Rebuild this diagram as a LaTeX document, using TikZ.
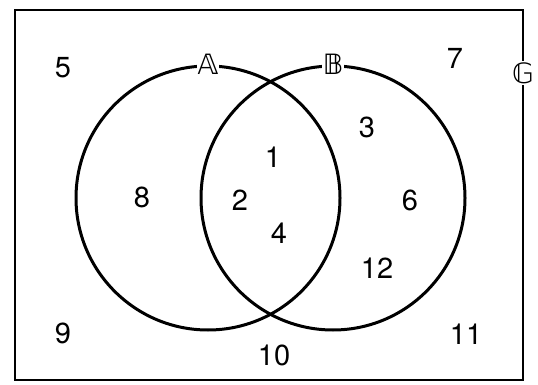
\documentclass[tikz,border=0pt]{standalone}
\usepackage{fontspec}
\setmainfont{TeX Gyre Heros}
\newfontfamily\dsfont{DejaVu Sans}

\begin{document}
\begin{tikzpicture}[x=1pt, y=-1pt]
    \tikzstyle{set} = [circle, draw, line width=3pt, minimum size=264pt, inner sep=0pt]
    \tikzstyle{setname} = [fill=white, inner sep=1pt, font=\dsfont\fontsize{28}{30}\selectfont]
    \tikzstyle{elem} = [font=\fontsize{29}{31}\selectfont, inner sep=0pt]

    \useasboundingbox (0,0) rectangle (538,385);

    % universe and the two sets
    \draw [line width=2.6pt] (15,10) rectangle (523,380);
    \node [set] (setA) at (208,198) {};
    \node [set] (setB) at (333,198) {};

    \node [setname] (nameA) at (setA.north) {𝔸};
    \node [setname] (nameB) at (setB.north) {𝔹};
    \node [setname] (nameG) at (523,73) {𝔾};

    % elements
    \node [elem] (e1) at (273,157) {1};
    \node [elem] (e2) at (240,200) {2};
    \node [elem] (e3) at (367,127) {3};
    \node [elem] (e4) at (279,233) {4};
    \node [elem] (e5) at (63,68) {5};
    \node [elem] (e6) at (410,200) {6};
    \node [elem] (e7) at (455,58) {7};
    \node [elem] (e8) at (142,197) {8};
    \node [elem] (e9) at (63,333) {9};
    \node [elem] (e10) at (274,355) {10};
    \node [elem] (e11) at (466,334) {11};
    \node [elem] (e12) at (377,268) {12};
\end{tikzpicture}
\end{document}
